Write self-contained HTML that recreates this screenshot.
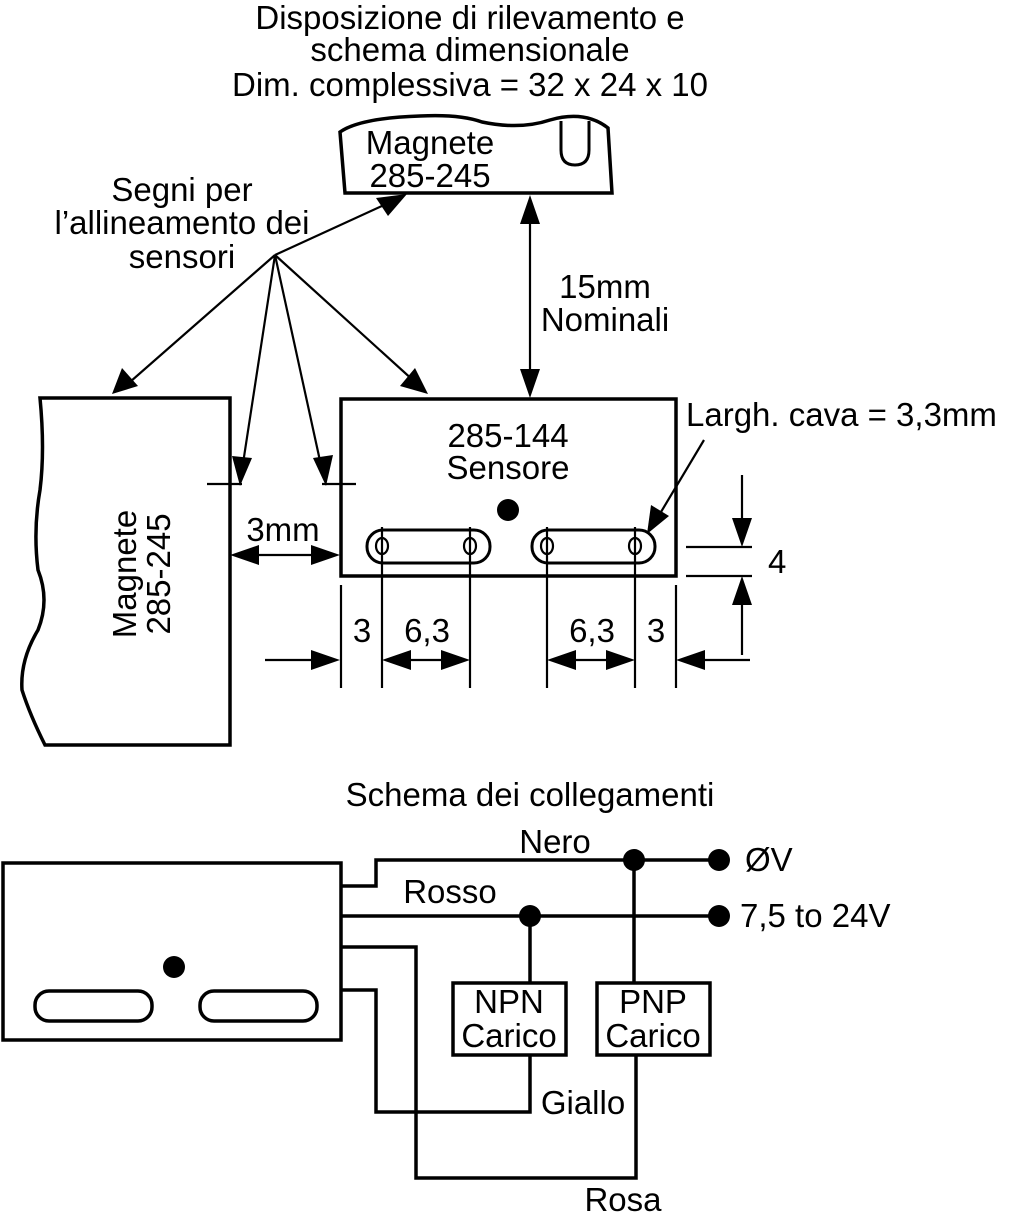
<!DOCTYPE html>
<html><head><meta charset="utf-8"><style>
html,body{margin:0;padding:0;background:#fff;}
svg{display:block;}
text{font-family:"Liberation Sans",sans-serif;font-size:33px;fill:#000;}
</style></head><body>
<svg width="1024" height="1226" viewBox="0 0 1024 1226" xmlns="http://www.w3.org/2000/svg">
<g text-anchor="middle">
<text x="470" y="29">Disposizione di rilevamento e</text>
<text x="470" y="61">schema dimensionale</text>
<text x="470" y="96">Dim. complessiva = 32 x 24 x 10</text>
<text x="430" y="154">Magnete</text>
<text x="430" y="187">285-245</text>
<text x="182" y="201">Segni per</text>
<text x="182" y="234">l’allineamento dei</text>
<text x="182" y="268">sensori</text>
<text x="605" y="298">15mm</text>
<text x="605" y="331">Nominali</text>
<text x="508" y="447">285-144</text>
<text x="508" y="479">Sensore</text>
<text x="283" y="541">3mm</text>
<text x="362" y="642">3</text>
<text x="427" y="642">6,3</text>
<text x="592" y="642">6,3</text>
<text x="656" y="642">3</text>
<text x="530" y="806">Schema dei collegamenti</text>
<text x="555" y="853">Nero</text>
<text x="450" y="903">Rosso</text>
<text x="509" y="1013">NPN</text>
<text x="509" y="1047">Carico</text>
<text x="653" y="1013">PNP</text>
<text x="653" y="1047">Carico</text>
<text x="583" y="1114">Giallo</text>
<text x="623" y="1211">Rosa</text>
</g>
<text x="686" y="426">Largh. cava = 3,3mm</text>
<text x="768" y="573">4</text>
<text x="745" y="871">ØV</text>
<text x="740" y="927">7,5 to 24V</text>
<text transform="translate(136,574) rotate(-90)" text-anchor="middle">Magnete</text>
<text transform="translate(170,574) rotate(-90)" text-anchor="middle">285-245</text>

<g fill="none" stroke="#000" stroke-width="3.5">
<path d="M345,193 L340,132 Q360,118 420,116 Q460,114 482,122 Q520,130 550,120 Q585,110 608,128 L612,193 Z"/>
<path d="M561,121 L561,150 Q561,165 575,165 Q589,165 589,150 L589,121" stroke-width="3"/>
<path d="M40,398 L230,398 L230,745 L45,745 Q30,715 22,690 Q20,660 38,630 Q50,600 38,570 Q33,530 40,490 Q45,450 40,398 Z"/>
<rect x="341" y="399" width="335" height="177"/>
<rect x="367" y="530" width="123" height="33" rx="16" stroke-width="3"/>
<rect x="532" y="530" width="123" height="33" rx="16" stroke-width="3"/>
</g>
<g fill="none" stroke="#000" stroke-width="2.2">
<ellipse cx="382" cy="546" rx="6" ry="8"/><ellipse cx="470" cy="546" rx="6" ry="8"/>
<ellipse cx="547" cy="546" rx="6" ry="8"/><ellipse cx="635" cy="546" rx="6" ry="8"/>
<line x1="382" y1="527" x2="382" y2="688"/><line x1="470" y1="527" x2="470" y2="688"/>
<line x1="547" y1="527" x2="547" y2="688"/><line x1="635" y1="527" x2="635" y2="688"/>
<line x1="341" y1="585" x2="341" y2="688"/><line x1="676" y1="585" x2="676" y2="688"/>
<line x1="207" y1="484" x2="242" y2="484"/><line x1="322" y1="484" x2="356" y2="484"/>
<line x1="686" y1="547" x2="752" y2="547"/><line x1="686" y1="576" x2="752" y2="576"/>
<line x1="275" y1="255" x2="395" y2="200"/>
<line x1="275" y1="255" x2="130" y2="382"/>
<line x1="275" y1="255" x2="242" y2="470"/>
<line x1="275" y1="255" x2="322" y2="470"/>
<line x1="275" y1="255" x2="415" y2="382"/>
<line x1="530" y1="205" x2="530" y2="388"/>
<line x1="240" y1="555" x2="330" y2="555"/>
<line x1="265" y1="660" x2="330" y2="660"/>
<line x1="392" y1="660" x2="460" y2="660"/>
<line x1="557" y1="660" x2="625" y2="660"/>
<line x1="686" y1="660" x2="750" y2="660"/>
<line x1="742" y1="475" x2="742" y2="537"/>
<line x1="742" y1="586" x2="742" y2="655"/>
<line x1="704" y1="440" x2="655" y2="522"/>
</g>
<g fill="#000">
<polygon points="407,194 376,198 388,216"/>
<polygon points="112,394 122,368 138,386"/>
<polygon points="240,486 232,456 252,458"/>
<polygon points="326,486 313,458 333,455"/>
<polygon points="428,394 400,386 415,368"/>
<polygon points="530,195 520,224 540,224"/>
<polygon points="530,398 520,369 540,369"/>
<polygon points="230,555 259,545 259,565"/>
<polygon points="340,555 311,545 311,565"/>
<polygon points="340,660 311,650 311,670"/>
<polygon points="382,660 411,650 411,670"/>
<polygon points="470,660 441,650 441,670"/>
<polygon points="547,660 576,650 576,670"/>
<polygon points="635,660 606,650 606,670"/>
<polygon points="676,660 705,650 705,670"/>
<polygon points="742,547 732,518 752,518"/>
<polygon points="742,576 732,605 752,605"/>
<polygon points="647,534 651,505 669,516"/>
<circle cx="508" cy="510" r="11"/>
<circle cx="174" cy="967" r="11"/>
<circle cx="634" cy="860" r="11"/><circle cx="719" cy="860" r="11"/>
<circle cx="530" cy="916" r="11"/><circle cx="719" cy="916" r="11"/>
</g>
<g fill="none" stroke="#000" stroke-width="3.5">
<rect x="3" y="863" width="338" height="177"/>
<rect x="35" y="991" width="117" height="30" rx="14"/>
<rect x="200" y="991" width="117" height="30" rx="14"/>
<polyline points="341,886 376,886 376,860 719,860"/>
<polyline points="341,916 719,916"/>
<polyline points="341,947 416,947 416,1178 636,1178 636,1055"/>
<polyline points="341,990 376,990 376,1112 530,1112 530,1055"/>
<line x1="530" y1="916" x2="530" y2="983"/>
<line x1="634" y1="860" x2="634" y2="983"/>
<rect x="453" y="983" width="113" height="72"/>
<rect x="597" y="983" width="113" height="72"/>
</g>
</svg>
</body></html>
